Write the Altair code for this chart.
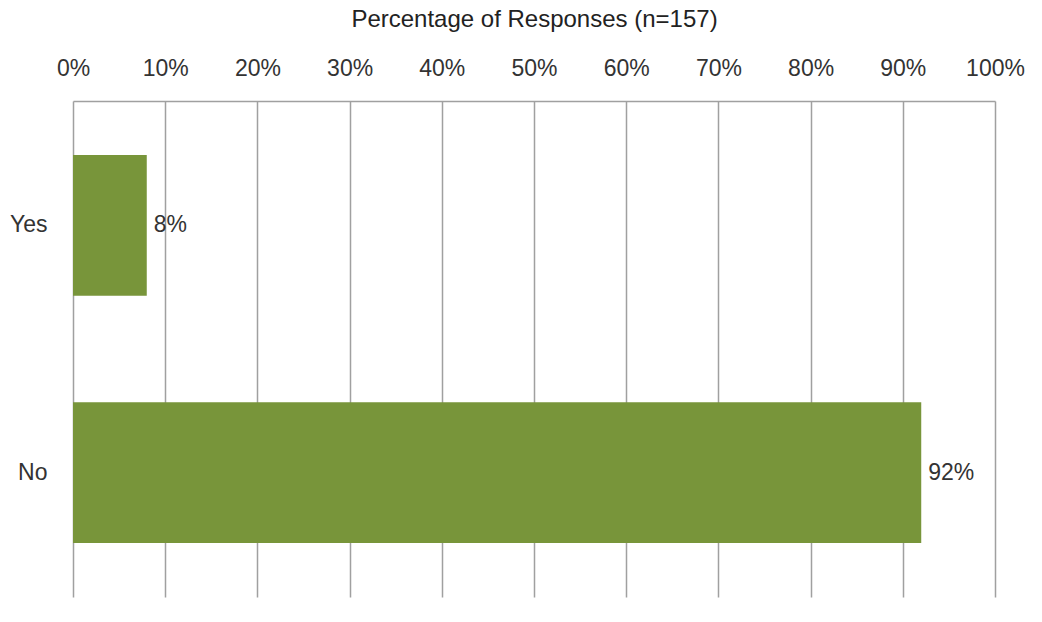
import altair as alt
import pandas as pd

categories = ["Yes", "No"]
values = [8, 92]
labels = ["8%", "92%"]

df = pd.DataFrame({"answer": categories, "pct": values, "label": labels})

FONT = "Liberation Sans"

x = alt.X(
    "pct:Q",
    scale=alt.Scale(domain=[0, 100], nice=False),
    axis=alt.Axis(
        orient="top",
        values=list(range(0, 101, 10)),
        format="d",
        labelExpr="datum.value + '%'",
        labelFlush=False,
        title="Percentage of Responses (n=157)",
        titleFont=FONT,
        titleFontSize=24,
        titleFontWeight="normal",
        titleColor="#222222",
        titlePadding=26,
        labelFont=FONT,
        labelFontSize=23,
        labelColor="#333333",
        labelPadding=21,
        ticks=False,
        domain=True,
        domainColor="#a0a0a0",
        domainWidth=1.5,
        grid=True,
        gridColor="#a0a0a0",
        gridWidth=1.5,
    ),
)

y = alt.Y(
    "answer:N",
    sort=categories,
    scale=alt.Scale(paddingInner=0.43, paddingOuter=0.218),
    axis=alt.Axis(
        title=None,
        labelFont=FONT,
        labelFontSize=23,
        labelColor="#333333",
        labelPadding=26,
        ticks=False,
        domain=False,
        grid=False,
    ),
)

base = alt.Chart(df).encode(x=x, y=y)

bars = base.mark_bar(color="#78953a")

text = base.mark_text(
    align="left", baseline="middle", dx=7, font=FONT, fontSize=23, color="#333333"
).encode(text="label:N")

chart = (
    alt.layer(bars, text)
    .properties(
        width=922,
        height=496,
        autosize=alt.AutoSizeParams(type="none"),
        padding={"left": 73, "top": 101, "right": 47, "bottom": 25},
    )
    .configure(background="white")
    .configure_view(strokeWidth=0, stroke="transparent")
)

chart.save("out.html", embed_options={"renderer": "svg", "actions": False})
